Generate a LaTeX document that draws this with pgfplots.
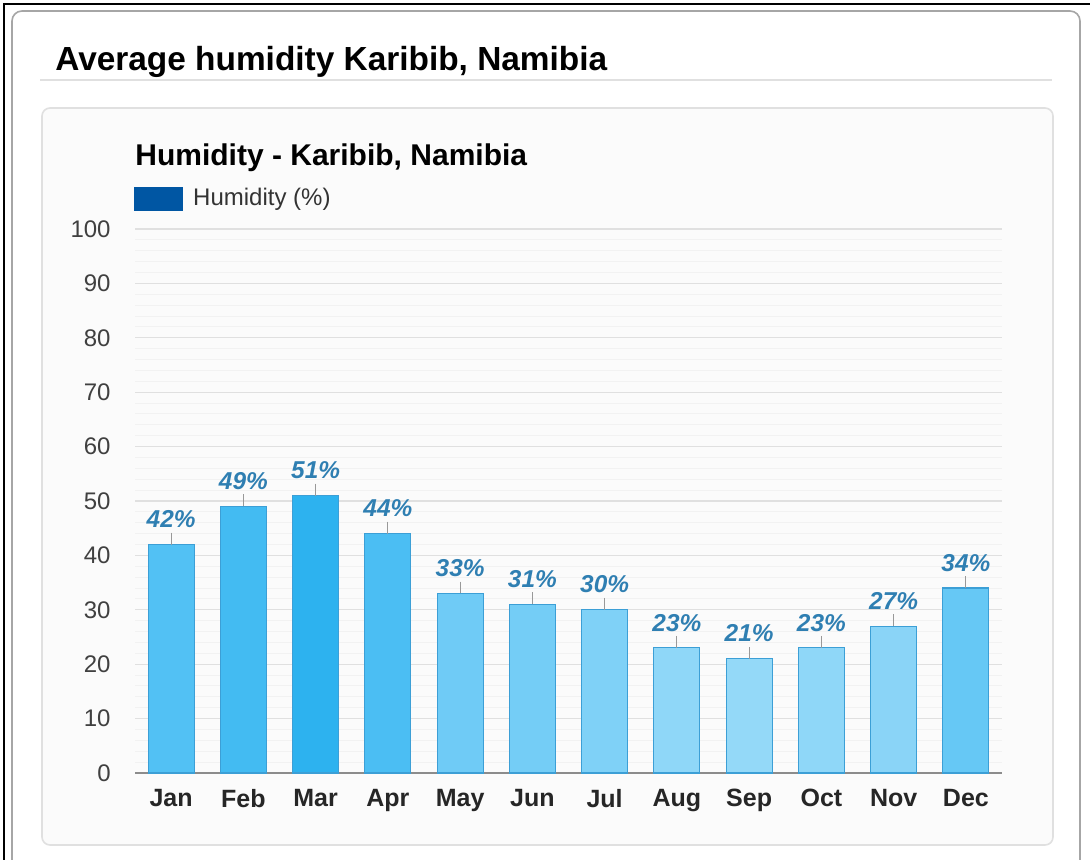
\documentclass[border=0pt]{standalone}
\usepackage{pgfplots}
\pgfplotsset{compat=1.18}
\usepackage{fontspec}
\setmainfont{Liberation Sans}
\definecolor{legblue}{HTML}{0056A3}
\definecolor{labblue}{HTML}{2F7FB2}
\definecolor{barline}{HTML}{3C9FD6}
\definecolor{cJan}{HTML}{52C1F4}
\definecolor{cFeb}{HTML}{43BBF2}
\definecolor{cMar}{HTML}{2DB2EF}
\definecolor{cApr}{HTML}{4BBEF3}
\definecolor{cMay}{HTML}{6FCBF6}
\definecolor{cJun}{HTML}{74CDF6}
\definecolor{cJul}{HTML}{7FD1F7}
\definecolor{cAug}{HTML}{8FD7F8}
\definecolor{cSep}{HTML}{94D9F8}
\definecolor{cOct}{HTML}{8FD7F8}
\definecolor{cNov}{HTML}{8AD4F7}
\definecolor{cDec}{HTML}{66C8F5}
\pgfplotsset{
  hbar/.style={fill=#1, draw=barline, line width=0.6pt, bar shift=0pt, bar width=23pt,
    error bars/.cd, y dir=plus, y fixed=2.2, error mark=none,
    error bar style={color=black!40, line width=0.6pt}},
}
\begin{document}
\begin{tikzpicture}
\begin{scope}[x=0.5pt,y=0.5pt]
\useasboundingbox (0,0) rectangle (1090,859);
\fill[white] (0,0) rectangle (1090,859);
\draw[black!35, line width=0.8pt, rounded corners=5pt] (12,848) rectangle (1080,-30);
\draw[black, line width=1.2pt] (4,-20) -- (4,855) -- (1100,855);
\node[anchor=base west, inner sep=0pt, font=\fontsize{16.7pt}{18pt}\selectfont\bfseries] at (55,789) {Average humidity Karibib, Namibia};
\draw[black!12, line width=0.8pt] (40,779) -- (1052,779);
\draw[black!12, fill=black!1.5, line width=0.8pt, rounded corners=4pt] (42,751) rectangle (1053,14);
\node[anchor=base west, inner sep=0pt, font=\fontsize{15pt}{17pt}\selectfont\bfseries] at (135,694) {Humidity - Karibib, Namibia};
\end{scope}
\begin{axis}[
  at={(67.5pt,43pt)}, anchor=south west,
  scale only axis, width=433.5pt, height=272pt,
  ymin=0, ymax=100, xmin=-0.5, xmax=11.5,
  ytick={0,10,...,100},
  minor y tick num=4,
  xtick={0,...,11},
  xticklabels={Jan,Feb,Mar,Apr,May,Jun,Jul,Aug,Sep,Oct,Nov,Dec},
  axis x line*=bottom, axis y line*=left,
  x axis line style={black!45, line width=0.8pt, -},
  y axis line style={draw=none},
  ymajorgrids, yminorgrids,
  major grid style={black!12, line width=0.6pt},
  minor grid style={black!5, line width=0.5pt},
  major tick length=0pt, minor tick length=0pt,
  tick style={draw=none},
  /pgf/number format/assume math mode=true,
  yticklabel style={anchor=east, inner sep=0pt, xshift=-12pt, text=black!75, font=\fontsize{12pt}{14pt}\selectfont},
  xticklabel style={anchor=north, inner sep=0pt, yshift=-8pt, text=black!85, font=\fontsize{12.5pt}{14pt}\selectfont\bfseries},
  clip=false,
  nodes near coords={\pgfmathprintnumber{\pgfplotspointmeta}\%},
  every node near coord/.append style={anchor=south, inner sep=0pt, yshift=8pt, text=labblue, font=\fontsize{12.2pt}{14pt}\selectfont\bfseries\itshape},
  legend style={draw=none, fill=none, at={(0,1)}, anchor=south west, xshift=-0.5pt, yshift=9pt, inner sep=0pt, font=\fontsize{12pt}{14pt}\selectfont, text=black!80,
    nodes={inner sep=0pt}, /tikz/every odd column/.append style={column sep=5pt}},
  legend cell align=left,
]
\addlegendimage{legend image code/.code={\fill[legblue] (0pt,-5.75pt) rectangle (24pt,5.75pt);}}
\addlegendentry{Humidity (\%)}
\addplot[ybar, hbar=cJan] coordinates {(0,42)};
\addplot[ybar, hbar=cFeb] coordinates {(1,49)};
\addplot[ybar, hbar=cMar] coordinates {(2,51)};
\addplot[ybar, hbar=cApr] coordinates {(3,44)};
\addplot[ybar, hbar=cMay] coordinates {(4,33)};
\addplot[ybar, hbar=cJun] coordinates {(5,31)};
\addplot[ybar, hbar=cJul] coordinates {(6,30)};
\addplot[ybar, hbar=cAug] coordinates {(7,23)};
\addplot[ybar, hbar=cSep] coordinates {(8,21)};
\addplot[ybar, hbar=cOct] coordinates {(9,23)};
\addplot[ybar, hbar=cNov] coordinates {(10,27)};
\addplot[ybar, hbar=cDec] coordinates {(11,34)};
\end{axis}
\end{tikzpicture}
\end{document}
